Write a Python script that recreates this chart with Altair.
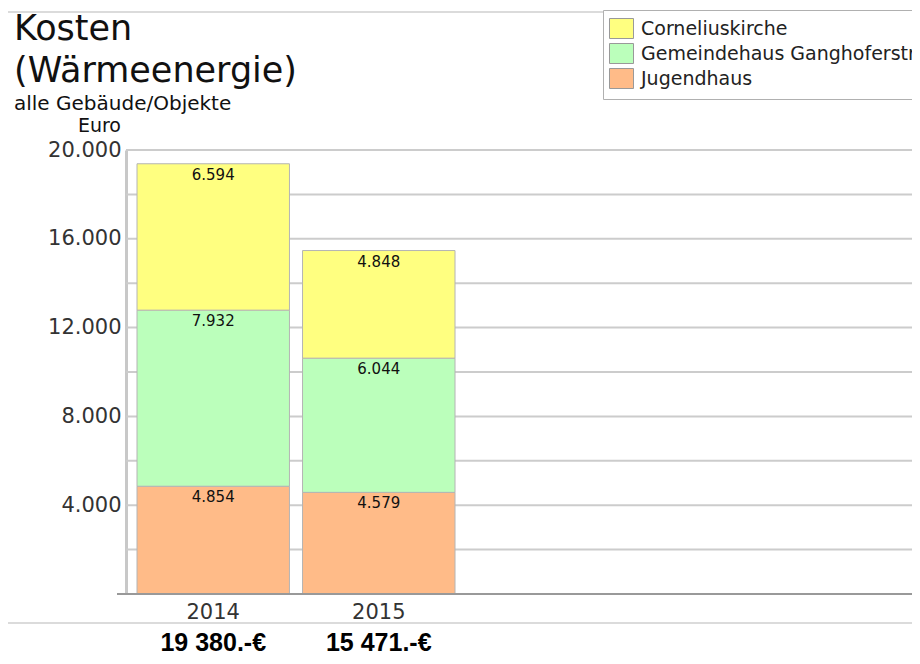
import altair as alt
import pandas as pd

years = ["2014", "2015"]
buildings = ["Corneliuskirche", "Gemeindehaus Ganghoferstr.", "Jugendhaus"]
colors = ["#FFFF80", "#BBFFBB", "#FFBB88"]
stack_order = [2, 1, 0]
corneliuskirche = [6594, 4848]
gemeindehaus = [7932, 6044]
jugendhaus = [4854, 4579]
y_ticks = [0, 2000, 4000, 6000, 8000, 10000, 12000, 14000, 16000, 18000, 20000]

series = [corneliuskirche, gemeindehaus, jugendhaus]
rows = []
for b, o, vals in zip(buildings, stack_order, series):
    for yr, v in zip(years, vals):
        rows.append({"year": yr, "building": b, "ord": o, "value": v})
df = pd.DataFrame(rows)

W, H = 786, 444
FONT = "DejaVu Sans"

xscale = alt.Scale(domain=years, range=[11, 329], paddingInner=0.079, paddingOuter=0)
yscale = alt.Scale(domain=[0, 20000], nice=False)

grid = alt.Chart(pd.DataFrame({"v": y_ticks[1:]})).mark_rule(color="#cccccc", strokeWidth=2).encode(
    y=alt.Y("v:Q", scale=yscale), x=alt.value(0), x2=alt.value(W + 20)
)

base = alt.Chart(df).transform_stack(
    stack="value", groupby=["year"], as_=["y0", "y1"], sort=[alt.SortField("ord")]
)

bars = base.mark_bar(stroke="#b4b4b4", strokeWidth=1).encode(
    x=alt.X("year:N", scale=xscale,
            axis=alt.Axis(title=None, domain=False, ticks=False, labelAngle=0,
                          labelFont=FONT, labelFontSize=21, labelColor="#333333",
                          labelPadding=7)),
    y=alt.Y("y1:Q", scale=yscale,
            axis=alt.Axis(title=None, values=y_ticks, grid=False, ticks=False,
                          domain=True, domainColor="#c8c8c8",
                          domainWidth=3, labelFont=FONT, labelFontSize=21,
                          labelColor="#333333", labelPadding=5,
                          labelExpr="datum.value > 0 && datum.value % 4000 == 0 ? replace(datum.label, ',', '.') : ''")),
    y2="y0:Q",
    color=alt.Color("building:N",
                    scale=alt.Scale(domain=buildings, range=colors),
                    legend=alt.Legend(title=None, orient="none", legendX=477, legendY=-140,
                                      padding=8, fillColor="white", strokeColor="#b0b0b0",
                                      symbolType="M-1.2,-1L1.2,-1L1.2,1L-1.2,1Z",
                                      symbolSize=400, symbolStrokeColor="#999999",
                                      symbolStrokeWidth=1, symbolOpacity=1,
                                      labelFont=FONT, labelFontSize=19,
                                      labelColor="#222222", labelOffset=9,
                                      rowPadding=0, labelLimit=400)),
    order=alt.Order("ord:Q"),
)

labels = base.mark_text(font=FONT, fontSize=15, color="#111111", baseline="top", dy=4).transform_calculate(
    lbl="replace(format(datum.value, ','), ',', '.')"
).encode(
    x=alt.X("year:N", scale=xscale),
    y=alt.Y("y1:Q", scale=yscale),
    text="lbl:N",
)

baseline = alt.Chart(pd.DataFrame({"v": [0]})).mark_rule(color="#999999", strokeWidth=2).encode(
    y=alt.Y("v:Q", scale=yscale), x=alt.value(-9), x2=alt.value(W + 20)
)

totals = alt.Chart(df).transform_aggregate(
    total="sum(value)", groupby=["year"]
).transform_calculate(
    lbl="replace(format(datum.total, ','), ',', ' ') + '.-€'"
).mark_text(font="Liberation Sans", fontSize=25, fontWeight="bold",
            color="#000000", baseline="alphabetic").encode(
    x=alt.X("year:N", scale=xscale),
    y=alt.value(501),
    text="lbl:N",
)

frame = alt.Chart(pd.DataFrame({"a": [0]})).mark_rect(fill=None, stroke="#d0d0d0", strokeWidth=1.5).encode(
    x=alt.value(-119), x2=alt.value(W + 30), y=alt.value(-138), y2=alt.value(473)
)

def txt(s, x, y, size, align="left"):
    return alt.Chart(pd.DataFrame({"t": [s]})).mark_text(
        font=FONT, fontSize=size, color="#111111", align=align, baseline="alphabetic"
    ).encode(text="t:N", x=alt.value(x), y=alt.value(y))

title1 = txt("Kosten", -112, -110, 35)
title2 = txt("(Wärmeenergie)", -112, -68, 35)
subtitle = txt("alle Gebäude/Objekte", -112, -40, 20)
euro = txt("Euro", -5, -18, 19, "right")

chart = alt.layer(frame, grid, bars, labels, baseline, totals, title1, title2, subtitle, euro).properties(
    width=W, height=H,
    autosize=alt.AutoSizeParams(type="none"),
    padding={"left": 118, "top": 142, "right": 0, "bottom": 62},
).configure_view(stroke=None)

chart.save("out.html", embed_options={"renderer": "svg", "actions": False})
